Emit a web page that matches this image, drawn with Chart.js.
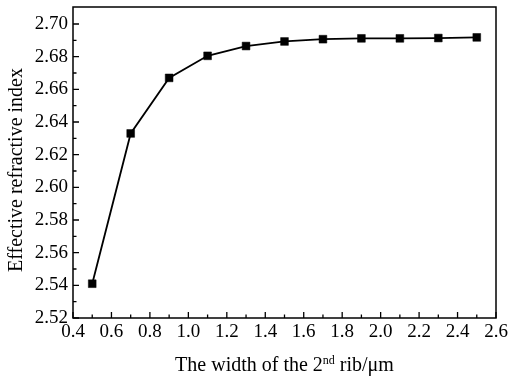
<!DOCTYPE html>
<html><head><meta charset="utf-8">
<script src="https://cdn.jsdelivr.net/npm/chart.js@4/dist/chart.umd.min.js"></script>
<style>html,body{margin:0;padding:0;background:#fff}#w{width:509px;height:378px}</style>
</head><body><div id="w"><canvas id="c"></canvas></div>
<script>
const widths = [0.5, 0.7, 0.9, 1.1, 1.3, 1.5, 1.7, 1.9, 2.1, 2.3, 2.5];
const neff = [2.541, 2.633, 2.667, 2.6805, 2.6865, 2.6893, 2.6907, 2.6912, 2.6912, 2.6914, 2.6918];
const xTicks = [0.4, 0.6, 0.8, 1.0, 1.2, 1.4, 1.6, 1.8, 2.0, 2.2, 2.4, 2.6];
const yTicks = [2.52, 2.54, 2.56, 2.58, 2.60, 2.62, 2.64, 2.66, 2.68, 2.70];
const xTitleParts = ["The width of the 2", "nd", " rib/\u03bcm"];
const yTitle = "Effective refractive index";
const FONT = "'Liberation Serif', 'Times New Roman', serif";

const framePlugin = {
  id: 'frame',
  afterDraw(chart) {
    const ctx = chart.ctx, a = chart.chartArea;
    const xs = chart.scales.x, ys = chart.scales.y;
    ctx.save();
    ctx.strokeStyle = '#000';
    ctx.lineWidth = 1.5;
    ctx.strokeRect(a.left, a.top, a.right - a.left, a.bottom - a.top);
    ctx.lineWidth = 1.3;
    ctx.beginPath();
    xTicks.forEach((v, i) => {
      const px = xs.getPixelForValue(v);
      ctx.moveTo(px, a.bottom); ctx.lineTo(px, a.bottom - 6);
      if (i < xTicks.length - 1) {
        const m = xs.getPixelForValue((v + xTicks[i + 1]) / 2);
        ctx.moveTo(m, a.bottom); ctx.lineTo(m, a.bottom - 3.5);
      }
    });
    yTicks.forEach((v, i) => {
      const py = ys.getPixelForValue(v);
      ctx.moveTo(a.left, py); ctx.lineTo(a.left + 6, py);
      if (i < yTicks.length - 1) {
        const m = ys.getPixelForValue((v + yTicks[i + 1]) / 2);
        ctx.moveTo(a.left, m); ctx.lineTo(a.left + 3.5, m);
      }
    });
    ctx.stroke();
    ctx.fillStyle = '#000';
    // y title
    ctx.save();
    ctx.translate(17, 170);
    ctx.rotate(-Math.PI / 2);
    ctx.font = "20px " + FONT;
    ctx.textAlign = 'center';
    ctx.textBaseline = 'middle';
    ctx.fillText(yTitle, 0, 0);
    ctx.restore();
    // x title with superscript
    ctx.textBaseline = 'alphabetic';
    const big = "20px " + FONT, small = "12px " + FONT;
    ctx.font = big; const w0 = ctx.measureText(xTitleParts[0]).width;
    const w2 = ctx.measureText(xTitleParts[2]).width;
    ctx.font = small; const w1 = ctx.measureText(xTitleParts[1]).width;
    const total = w0 + w1 + w2;
    let x = (a.left + a.right) / 2 - total / 2;
    const base = 371;
    ctx.textAlign = 'left';
    ctx.font = big; ctx.fillText(xTitleParts[0], x, base); x += w0;
    ctx.font = small; ctx.fillText(xTitleParts[1], x, base - 7); x += w1;
    ctx.font = big; ctx.fillText(xTitleParts[2], x, base);
    ctx.restore();
  }
};

function zeroPad(s) { s.paddingTop = 0; s.paddingBottom = 0; s.paddingLeft = 0; s.paddingRight = 0; }

new Chart(document.getElementById('c'), {
  type: 'line',
  data: {
    datasets: [{
      data: widths.map((w, i) => ({x: w, y: neff[i]})),
      borderColor: '#000',
      backgroundColor: '#000',
      borderWidth: 1.8,
      pointStyle: 'rect',
      pointRadius: 5.5,
      pointBorderWidth: 0.5,
      pointHoverRadius: 5.5,
      tension: 0
    }]
  },
  options: {
    responsive: true,
    maintainAspectRatio: false,
    animation: false,
    devicePixelRatio: 1,
    layout: {padding: {top: 7, right: 13, left: 0, bottom: 0}},
    plugins: {legend: {display: false}, tooltip: {enabled: false}},
    scales: {
      x: {
        type: 'linear', min: 0.4, max: 2.6,
        afterBuildTicks: s => { s.ticks = xTicks.map(v => ({value: v})); },
        afterFit: s => { s.height = 60; zeroPad(s); },
        grid: {display: false, drawTicks: false},
        border: {display: false},
        ticks: {color: '#000', padding: 3, maxRotation: 0, autoSkip: false,
          font: {family: FONT, size: 19}, callback: v => Number(v).toFixed(1)}
      },
      y: {
        type: 'linear', min: 2.52, max: 2.7104,
        afterBuildTicks: s => { s.ticks = yTicks.map(v => ({value: v})); },
        afterFit: s => { s.width = 73; zeroPad(s); },
        grid: {display: false, drawTicks: false},
        border: {display: false},
        ticks: {color: '#000', padding: 5, autoSkip: false,
          font: {family: FONT, size: 19}, callback: v => Number(v).toFixed(2)}
      }
    }
  },
  plugins: [framePlugin]
});
</script></body></html>
